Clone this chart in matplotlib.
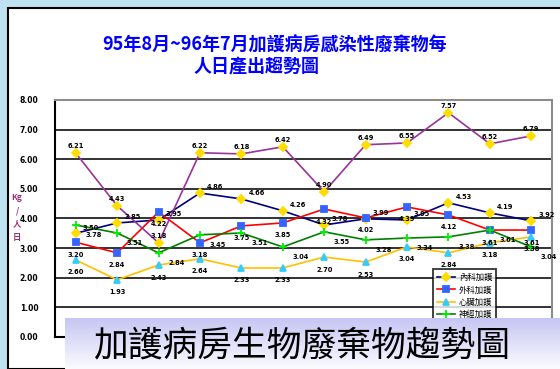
import numpy as np
import matplotlib
matplotlib.use("Agg")
import matplotlib.pyplot as plt
from matplotlib.patches import Rectangle
from matplotlib.colors import LinearSegmentedColormap

plt.rcParams['font.family'] = ['Noto Sans CJK TC', 'DejaVu Sans']

# 95/8 - 96/7, kg per patient-day
months = ['8月', '9月', '10月', '11月', '12月', '1月',
          '2月', '3月', '4月', '5月', '6月', '7月']
ward_names = ['內科加護', '外科加護', '心臟加護', '神經加護', '呼吸加護']
ward_a = [3.50, 3.85, 3.95, 4.86, 4.66, 4.26, 3.78, 3.99, 3.95, 4.53, 4.19, 3.92]
ward_b = [3.20, 2.84, 4.22, 3.18, 3.75, 3.85, 4.32, 4.02, 4.39, 4.12, 3.61, 3.61]
ward_c = [2.60, 1.93, 2.43, 2.64, 2.33, 2.33, 2.70, 2.53, 3.04, 2.84, 3.18, 3.38]
ward_d = [3.78, 3.51, 2.84, 3.45, 3.51, 3.04, 3.55, 3.28, 3.34, 3.38, 3.61, 3.04]
ward_e = [6.21, 4.43, 3.18, 6.22, 6.18, 6.42, 4.90, 6.49, 6.55, 7.57, 6.52, 6.79]

W, H = 560, 369
fig = plt.figure(figsize=(W / 100, H / 100), dpi=100)
fig.patch.set_facecolor('#bfe2f2')

# white slide frame
fig.patches.append(Rectangle((8 / W, 0), 1, (H - 8) / H, transform=fig.transFigure,
                             facecolor='white', edgecolor='black', lw=1.5, zorder=-1))

ax = fig.add_axes([55 / W, 32 / H, 497 / W, 237 / H])
x = np.arange(len(months))

styles = [
    (ward_a, '#000080', 'D', '#ffdd00', 4.5, (5, 4), 'left'),
    (ward_b, '#ff0000', 's', '#3366ff', 4.0, (0, -9), 'center'),
    (ward_c, '#ffc000', '^', '#33ccff', 5.0, (0, -9), 'center'),
    (ward_d, '#008000', '+', '#00ee00', 6.0, (7, -7), 'left'),
    (ward_e, '#993399', 'D', '#ffdd00', 4.5, (0, 5), 'center'),
]
for (vals, lc, mk, mc, ms, off, ha), name in zip(styles, ward_names):
    ax.plot(x, vals, color=lc, lw=1.2, marker=mk, markersize=ms,
            markerfacecolor=mc, markeredgecolor=mc, markeredgewidth=1.3, label=name)
    for xi, v in zip(x, vals):
        ax.annotate(f'{v:.2f}', (xi, v), textcoords='offset points', xytext=off,
                    ha=ha, va='center', fontsize=4.8, fontweight='bold',
                    family='DejaVu Sans', color='black')

ax.set_xlim(-0.5, 11.5)
ax.set_ylim(0, 8)
ax.set_yticks(range(0, 9))
ax.set_yticklabels([f'{v:.2f}' for v in range(0, 9)], fontsize=5.5,
                   fontweight='bold', family='DejaVu Sans')
# month labels sit under the caption band, so none are drawn
ax.set_xticks(x)
ax.set_xticklabels([])
ax.tick_params(axis='y', length=0, pad=12)
ax.tick_params(axis='x', length=0)
for yv in range(1, 8):
    ax.axhline(yv, color='#222222', lw=1.3, zorder=0)
for side in ['left', 'bottom']:
    ax.spines[side].set_color('black')
    ax.spines[side].set_linewidth(1.5)
for side in ['top', 'right']:
    ax.spines[side].set_color('#8c8c8c')
    ax.spines[side].set_linewidth(1.5)

leg = ax.legend(loc='upper left', bbox_to_anchor=(0.752, 0.305), fontsize=6,
                frameon=True, fancybox=False, edgecolor='black', handlelength=2.2,
                borderpad=0.5, labelspacing=0.4, handletextpad=0.4)
leg.get_frame().set_linewidth(1.3)

# title and stacked axis unit
fig.text(275 / W, 1 - 45 / H, '95年8月~96年7月加護病房感染性廢棄物每',
         ha='center', va='center', fontsize=13, fontweight='bold', color='#0000ff')
fig.text(257 / W, 1 - 67 / H, '人日產出趨勢圖',
         ha='center', va='center', fontsize=13, fontweight='bold', color='#0000ff')
for i, ch in enumerate(['Kg', '/', '人', '日']):
    fig.text(17 / W, 1 - (198 + 13 * i) / H, ch, ha='center', va='center',
             fontsize=6, fontweight='bold', color='#a0306e')

# caption band across the bottom
band = fig.add_axes([65 / W, 0, (W - 65) / W, 51 / H], zorder=10)
grad = LinearSegmentedColormap.from_list('band', ['#c6c6f4', '#fbfbff'])
band.imshow(np.linspace(0, 1, 64).reshape(-1, 1), aspect='auto', cmap=grad,
            extent=(0, 1, 0, 1))
band.set_axis_off()
band.text(0.478, 0.46, '加護病房生物廢棄物趨勢圖', ha='center', va='center',
          fontsize=25, color='black', transform=band.transAxes)

fig.savefig('out.png', dpi=100)
